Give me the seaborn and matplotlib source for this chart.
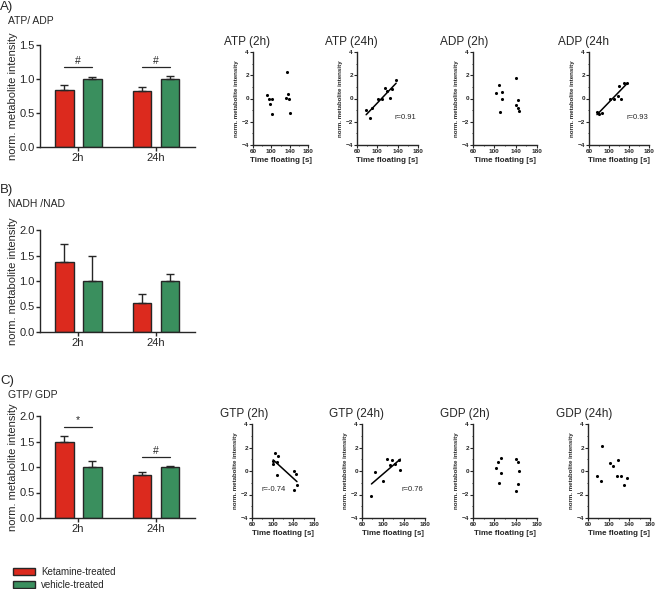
import matplotlib
matplotlib.use("Agg")
import matplotlib.pyplot as plt
import pandas as pd
import seaborn as sns
from matplotlib.patches import Patch

# ---- bar chart data (mean, upper SEM) ----
times = ["2h", "24h"]
treatments = ["Ketamine-treated", "vehicle-treated"]

atp_adp_ket = [0.84, 0.82]
atp_adp_ket_err = [0.07, 0.065]
atp_adp_veh = [1.00, 1.00]
atp_adp_veh_err = [0.03, 0.04]

nadh_nad_ket = [1.37, 0.56]
nadh_nad_ket_err = [0.35, 0.19]
nadh_nad_veh = [1.00, 1.00]
nadh_nad_veh_err = [0.49, 0.13]

gtp_gdp_ket = [1.50, 0.84]
gtp_gdp_ket_err = [0.10, 0.06]
gtp_gdp_veh = [1.00, 1.00]
gtp_gdp_veh_err = [0.11, 0.015]

# significance marks: (time, bracket height, symbol)
atp_adp_sig = [("2h", 1.17, "#"), ("24h", 1.17, "#")]
nadh_nad_sig = []
gtp_gdp_sig = [("2h", 1.79, "*"), ("24h", 1.19, "#")]

# ---- scatter data: time floating [s] vs normalised intensity ----
atp_2h_t = [90, 95, 101, 98, 101, 134, 133, 137, 138, 140]
atp_2h_v = [0.34, -0.06, -0.06, -0.51, -1.37, 2.26, 0.06, 0.40, -0.06, -1.23]
atp_24h_t = [78, 86, 90, 102, 110, 116, 120, 125, 129, 137]
atp_24h_v = [-1.00, -1.71, -0.86, 0.00, -0.03, 0.94, 0.66, 0.03, 0.83, 1.57]
adp_2h_t = [108, 104, 114, 114, 110, 141, 144, 141, 145, 147]
adp_2h_v = [1.16, 0.51, 0.57, -0.06, -1.13, 1.79, -0.14, -0.60, -0.85, -1.10]
adp_24h_t = [76, 79, 85, 101, 110, 117, 119, 123, 129, 136]
adp_24h_v = [-1.13, -1.36, -1.25, 0.00, -0.06, 0.23, 1.10, 0.00, 1.30, 1.30]
gtp_2h_t = [105, 111, 101, 101, 108, 109, 141, 145, 141, 147]
gtp_2h_v = [1.49, 1.26, 0.86, 0.63, -0.37, 0.74, -0.03, -0.29, -1.60, -1.23]
gtp_24h_t = [78, 84, 100, 108, 114, 118, 123, 131, 133]
gtp_24h_v = [-2.09, -0.11, -0.86, 1.00, 0.54, 0.97, 0.63, 0.91, 0.11]
gdp_2h_t = [107, 112, 104, 112, 109, 141, 145, 147, 144, 141]
gdp_2h_v = [0.80, 1.14, 0.26, -0.20, -1.00, 1.00, 0.74, 0.00, -1.11, -1.74]
gdp_24h_t = [78, 85, 88, 102, 109, 119, 116, 123, 130, 135]
gdp_24h_v = [-0.40, -0.83, 2.09, 0.71, 0.40, 0.91, -0.40, -0.40, -1.23, -0.63]

r_labels = {"ATP (24h)": "r=0.91", "ADP (24h": "r=0.93",
            "GTP (2h)": "r=-0.74", "GTP (24h)": "r=0.76"}

RED = "#DC2A1E"
GREEN = "#3A8F5E"
EDGE = "#262626"
W, H = 659, 589

sns.set_style("ticks")
plt.rcParams["font.family"] = ["Liberation Sans", "DejaVu Sans"]
plt.rcParams["axes.linewidth"] = 1.0

fig = plt.figure(figsize=(W / 100, H / 100), dpi=100)


def box(l, t, r, b):
    return [l / W, 1 - b / H, (r - l) / W, (b - t) / H]


def bar_panel(rect, ket, ket_err, veh, veh_err, ymax, sig):
    ax = fig.add_axes(box(*rect))
    df = pd.DataFrame({
        "time": times * 2,
        "treatment": [treatments[0]] * 2 + [treatments[1]] * 2,
        "value": ket + veh,
        "err": ket_err + veh_err,
    })
    sns.barplot(data=df, x="time", y="value", hue="treatment", hue_order=treatments,
                palette=[RED, GREEN], errorbar=None, width=0.72, gap=0.33,
                edgecolor=EDGE, linewidth=1, saturation=1, legend=False, ax=ax)
    centers = {}
    for container, level in zip(ax.containers, treatments):
        sub = df[df["treatment"] == level]
        xs = [p.get_x() + p.get_width() / 2 for p in container]
        ax.errorbar(xs, sub["value"], yerr=[[0] * len(xs), sub["err"]], fmt="none",
                    ecolor=EDGE, elinewidth=1, capsize=3, capthick=1, zorder=1)
        for t, x in zip(sub["time"], xs):
            centers.setdefault(t, []).append(x)
    for t, y, sym in sig:
        x0, x1 = min(centers[t]), max(centers[t])
        ax.plot([x0, x1], [y, y], color=EDGE, lw=0.9)
        ax.text((x0 + x1) / 2, y + ymax * 0.015, sym, ha="center", va="bottom", fontsize=7.5)
    ax.set_xlim(-0.49, 1.5)
    ax.set_ylim(0, ymax)
    ax.set_yticks([v * 0.5 for v in range(int(ymax / 0.5) + 1)])
    ax.set_yticklabels([f"{v * 0.5:.1f}" for v in range(int(ymax / 0.5) + 1)])
    ax.set_xlabel("")
    ax.set_ylabel("norm. metabolite intensity", fontsize=8, labelpad=1)
    ax.tick_params(labelsize=8, length=3, width=1, pad=1)
    sns.despine(ax=ax)
    return ax


def scatter_panel(rect, title, t, v):
    ax = fig.add_axes(box(*rect))
    sns.scatterplot(x=t, y=v, color="black", s=5, linewidth=0, ax=ax)
    if title in r_labels:
        sns.regplot(x=t, y=v, scatter=False, ci=None, ax=ax,
                    line_kws=dict(color="black", lw=1.1))
        ax.text(0.62 if title != "GTP (2h)" else 0.15, 0.3, r_labels[title],
                transform=ax.transAxes, fontsize=5.5, va="center")
    ax.set_xlim(60, 180)
    ax.set_ylim(-4, 4)
    ax.set_xticks([60, 100, 140, 180])
    ax.set_yticks([-4, -2, 0, 2, 4])
    ax.set_xticks([80, 120, 160], minor=True)
    ax.set_yticks([-3, -1, 1, 3], minor=True)
    ax.tick_params(labelsize=4.6, length=2, width=0.8, pad=1)
    ax.tick_params(which="minor", length=1, width=0.6)
    for lab in ax.get_xticklabels() + ax.get_yticklabels():
        lab.set_fontweight("bold")
    ax.set_xlabel("Time floating [s]", fontsize=5.8, fontweight="bold", labelpad=2)
    ax.set_ylabel("norm. metabolite intensity", fontsize=4.4, fontweight="bold", labelpad=2)
    ax.text(-0.52, 1.04, title, transform=ax.transAxes, fontsize=8.5, ha="left", va="bottom")
    sns.despine(ax=ax)
    return ax


# left column: bar charts
bar_panel((40, 45, 195, 147), atp_adp_ket, atp_adp_ket_err, atp_adp_veh, atp_adp_veh_err, 1.5, atp_adp_sig)
bar_panel((40, 230, 195, 332), nadh_nad_ket, nadh_nad_ket_err, nadh_nad_veh, nadh_nad_veh_err, 2.0, nadh_nad_sig)
bar_panel((40, 416, 195, 518), gtp_gdp_ket, gtp_gdp_ket_err, gtp_gdp_veh, gtp_gdp_veh_err, 2.0, gtp_gdp_sig)

for y, letter, label in [(7, "A)", "ATP/ ADP"), (190, "B)", "NADH /NAD"), (381, "C)", "GTP/ GDP")]:
    fig.text(0 / W, 1 - y / H, letter, fontsize=9.5, va="center", ha="left")
    fig.text(8 / W, 1 - (y + 14) / H, label, fontsize=7.5, va="center", ha="left")

# right columns: correlation scatters
scatter_panel((253, 52, 308, 145), "ATP (2h)", atp_2h_t, atp_2h_v)
scatter_panel((357, 52, 418, 145), "ATP (24h)", atp_24h_t, atp_24h_v)
scatter_panel((473, 52, 537, 145), "ADP (2h)", adp_2h_t, adp_2h_v)
scatter_panel((589, 52, 649, 145), "ADP (24h", adp_24h_t, adp_24h_v)
scatter_panel((252, 424, 314, 518), "GTP (2h)", gtp_2h_t, gtp_2h_v)
scatter_panel((362, 424, 425, 518), "GTP (24h)", gtp_24h_t, gtp_24h_v)
scatter_panel((473, 424, 537, 518), "GDP (2h)", gdp_2h_t, gdp_2h_v)
scatter_panel((588, 424, 650, 518), "GDP (24h)", gdp_24h_t, gdp_24h_v)

handles = [Patch(facecolor=c, edgecolor=EDGE, linewidth=1) for c in (RED, GREEN)]
fig.legend(handles, treatments, loc="upper left", bbox_to_anchor=(13 / W, 1 - 567 / H),
           frameon=False, fontsize=7, handlelength=2.3, handleheight=0.8,
           handletextpad=0.6, labelspacing=0.3, borderpad=0, borderaxespad=0)

fig.savefig("out.png", dpi=100)
plt.close(fig)
